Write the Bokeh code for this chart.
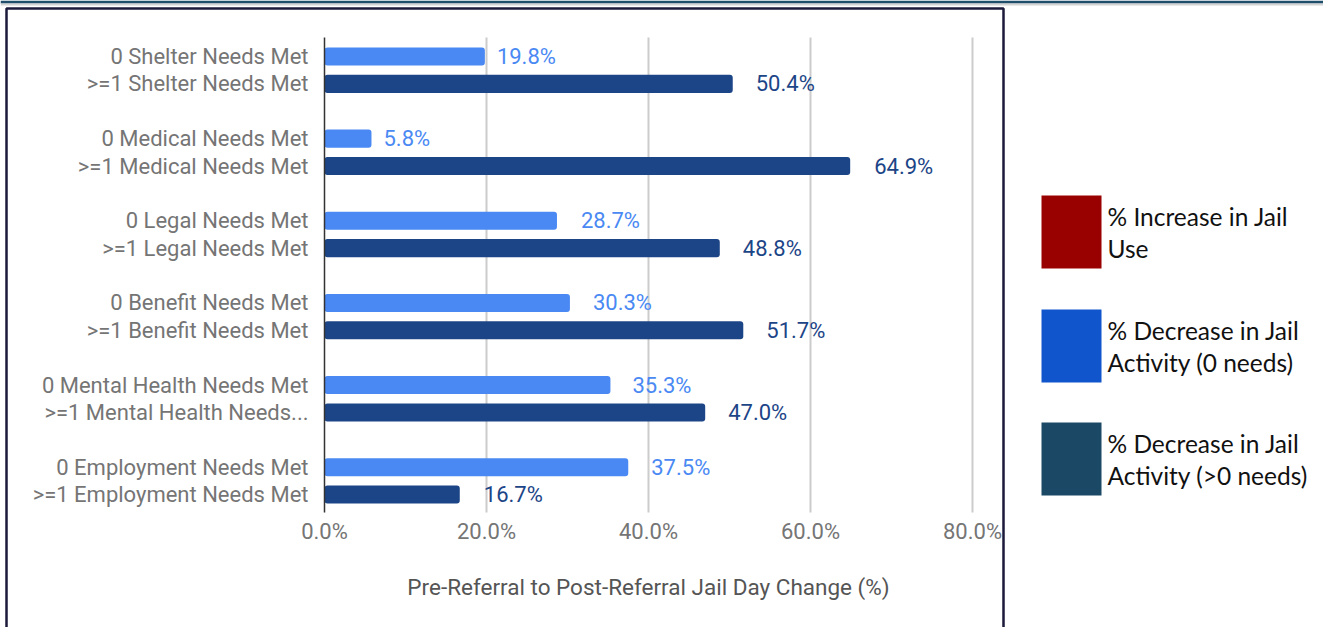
from bokeh.plotting import figure
from bokeh.models import (ColumnDataSource, Range1d, FixedTicker, LinearAxis)
from bokeh.core.properties import value
from bokeh.embed import file_html
from bokeh.resources import INLINE

# ---------------- data ----------------
needs = ["Shelter", "Medical", "Legal", "Benefit", "Mental Health", "Employment"]
zero_labels = ["0 Shelter Needs Met", "0 Medical Needs Met", "0 Legal Needs Met",
               "0 Benefit Needs Met", "0 Mental Health Needs Met", "0 Employment Needs Met"]
one_labels = [">=1 Shelter Needs Met", ">=1 Medical Needs Met", ">=1 Legal Needs Met",
              ">=1 Benefit Needs Met", ">=1 Mental Health Needs...", ">=1 Employment Needs Met"]
zero_vals = [19.8, 5.8, 28.7, 30.3, 35.3, 37.5]
one_vals = [50.4, 64.9, 48.8, 51.7, 47.0, 16.7]
x_ticks = [0, 20, 40, 60, 80]
x_title = "Pre-Referral to Post-Referral Jail Day Change (%)"
legend_line1 = ["% Increase in Jail", "% Decrease in Jail", "% Decrease in Jail"]
legend_line2 = ["Use", "Activity (0 needs)", "Activity (>0 needs)"]
legend_colors = ["#990000", "#1155cc", "#1b4965"]

# ---------------- styles / layout ----------------
C_ZERO = "#4a89f3"
C_ONE = "#1c4587"
GRAY = "#757575"
FONT = "Roboto"
FS = "22px"
zero_gap = [12, 12, 24, 23, 22, 23]
one_gap = [23, 24, 23, 23, 23, 24]

W, H = 1323, 627
PX0, PX80 = 324, 972          # pixel of 0% and 80%
PY_FIRST, SLOT = 56, 27.38    # pixel centre of first bar, slot height
PLOT_TOP, PLOT_BOTTOM = 37, 512
XS = (PX80 - PX0) / 80.0


def px2x(px):
    return (px - PX0) / XS


def px2y(py):
    return (py - PY_FIRST) / SLOT


# slot positions (each group: two bars + one spacer slot)
y0 = [g * 3 for g in range(len(needs))]
y1 = [g * 3 + 1 for g in range(len(needs))]

p = figure(width=W, height=H, output_backend="svg", toolbar_location=None,
           x_range=Range1d(px2x(0), px2x(W)), y_range=Range1d(px2y(H), px2y(0)),
           x_axis_location=None, y_axis_location=None,
           min_border=0, min_border_left=0, min_border_right=0,
           min_border_top=0, min_border_bottom=0)
p.outline_line_color = None
p.background_fill_color = "white"
p.border_fill_color = "white"
p.grid.visible = False

y_top = px2y(PLOT_TOP)
y_bot = px2y(PLOT_BOTTOM)

# vertical grid lines
grid_x = [t for t in x_ticks if t > 0]
p.segment(x0=grid_x, x1=grid_x, y0=[y_top] * len(grid_x), y1=[y_bot] * len(grid_x),
          line_color="#cccccc", line_width=2)

src0 = ColumnDataSource(dict(y=y0, v=zero_vals, t=[f"{v:.1f}%" for v in zero_vals], off=zero_gap))
src1 = ColumnDataSource(dict(y=y1, v=one_vals, t=[f"{v:.1f}%" for v in one_vals], off=one_gap))

p.hbar(y="y", left=0, right="v", height=0.66, source=src0, fill_color=C_ZERO,
       line_color=None, border_radius=3)
p.hbar(y="y", left=0, right="v", height=0.66, source=src1, fill_color=C_ONE,
       line_color=None, border_radius=3)

p.text(x="v", y="y", text="t", source=src0, x_offset="off", text_align="left",
       text_baseline="middle", text_color=C_ZERO, text_font=value(FONT),
       text_font_size=FS)
p.text(x="v", y="y", text="t", source=src1, x_offset="off", text_align="left",
       text_baseline="middle", text_color=C_ONE, text_font=value(FONT),
       text_font_size=FS)

# x axis, fixed at the bottom of the plotting area
xax = LinearAxis(fixed_location=y_bot)
xax.ticker = FixedTicker(ticks=x_ticks)
xax.major_label_overrides = {t: f"{t:.1f}%" for t in x_ticks}
xax.axis_line_color = None
xax.major_tick_line_color = None
xax.minor_tick_line_color = None
xax.major_label_standoff = 0
xax.major_label_text_font = FONT
xax.major_label_text_font_size = FS
xax.major_label_text_color = GRAY
p.add_layout(xax, "below")

# axis title, centred under the plotting area
p.text(x=[(x_ticks[0] + x_ticks[-1]) / 2], y=[px2y(586)], text=[x_title],
       text_align="center", text_baseline="middle", text_color="#555555",
       text_font=value(FONT), text_font_size="22.5px")

# y axis, fixed at 0%
yax = LinearAxis(fixed_location=0, bounds=(y_bot, y_top))
yax.ticker = FixedTicker(ticks=y0 + y1)
overrides = {}
for yy, lab in zip(y0, zero_labels):
    overrides[yy] = lab
for yy, lab in zip(y1, one_labels):
    overrides[yy] = lab
yax.major_label_overrides = overrides
yax.axis_line_color = "#333333"
yax.axis_line_width = 1.5
yax.major_tick_line_color = None
yax.minor_tick_line_color = None
yax.major_label_standoff = 10
yax.major_label_text_font = FONT
yax.major_label_text_font_size = FS
yax.major_label_text_color = GRAY
p.add_layout(yax, "left")

# page chrome: top rule and chart border
p.quad(left=[px2x(0)], right=[px2x(W)], top=[px2y(0)], bottom=[px2y(3)],
       fill_color="#1f4e6b", line_color=None)
p.quad(left=[px2x(0)], right=[px2x(W)], top=[px2y(3)], bottom=[px2y(5)],
       fill_color="#d4d4d4", line_color=None)
p.quad(left=[px2x(6)], right=[px2x(1003)], top=[px2y(8)], bottom=[px2y(H + 10)],
       fill_alpha=0, line_color="#1b1a3a", line_width=2.5)

# legend
box_tops = [195, 309, 422]
p.quad(left=[px2x(1041)] * 3, right=[px2x(1101)] * 3,
       top=[px2y(t) for t in box_tops], bottom=[px2y(t + 73) for t in box_tops],
       fill_color=legend_colors, line_color=None)
p.text(x=[px2x(1107)] * 3, y=[px2y(t + 21) for t in box_tops], text=legend_line1,
       text_font=value("Lato"), text_font_size="24.5px", text_color="#111111",
       text_baseline="middle", text_align="left")
p.text(x=[px2x(1107)] * 3, y=[px2y(t + 53) for t in box_tops], text=legend_line2,
       text_font=value("Lato"), text_font_size="24.5px", text_color="#111111",
       text_baseline="middle", text_align="left")

open("out.html", "w").write(file_html(p, INLINE))
